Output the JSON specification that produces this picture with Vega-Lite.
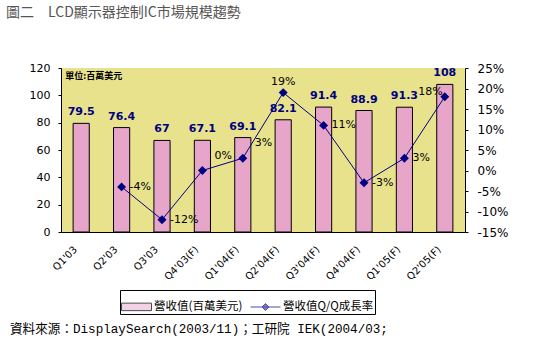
{
  "$schema": "https://vega.github.io/schema/vega-lite/v6.json",
  "config": {
    "locale": {"number": {"decimal": ".", "thousands": ",", "grouping": [3], "currency": ["$", ""], "minus": "-"}},
    "font": "DejaVu Sans",
    "view": {"stroke": null},
    "concat": {"spacing": 0}
  },
  "padding": {"left": 6, "top": 6, "right": 5, "bottom": 5},
  "title": {"text": "資料來源：DisplaySearch(2003/11)；工研院 IEK(2004/03;", "orient": "bottom", "anchor": "start", "frame": "bounds", "font": "Liberation Mono, Noto Sans CJK TC", "fontSize": 12.6, "fontWeight": "normal", "color": "black", "dx": 4, "offset": 8},
  "vconcat": [
    {
      "width": 404,
      "height": 164,
      "view": {"fill": "#E8E28C", "stroke": null},
      "title": {"text": "圖二　LCD顯示器控制IC市場規模趨勢", "anchor": "start", "frame": "bounds", "font": "Noto Sans CJK TC", "fontSize": 14, "fontWeight": "normal", "color": "#555555", "dx": -23, "offset": 42},
      "data": {"values": [
        {"q": "Q1'03", "rev": 79.5, "growth": null},
        {"q": "Q2'03", "rev": 76.4, "growth": -0.04},
        {"q": "Q3'03", "rev": 67, "growth": -0.12},
        {"q": "Q4'03(F)", "rev": 67.1, "growth": 0},
        {"q": "Q1'04(F)", "rev": 69.1, "growth": 0.03},
        {"q": "Q2'04(F)", "rev": 82.1, "growth": 0.19},
        {"q": "Q3'04(F)", "rev": 91.4, "growth": 0.11},
        {"q": "Q4'04(F)", "rev": 88.9, "growth": -0.03},
        {"q": "Q1'05(F)", "rev": 91.3, "growth": 0.03},
        {"q": "Q2'05(F)", "rev": 108, "growth": 0.18}
      ]},
      "encoding": {
        "x": {"field": "q", "type": "nominal", "sort": null, "title": null,
          "scale": {"paddingInner": 0, "paddingOuter": 0},
          "axis": {"labelAngle": -45, "labelFontSize": 10, "labelColor": "black", "ticks": false, "domainColor": "black", "labelPadding": 12, "labelOffset": -9}}
      },
      "layer": [
        {
          "layer": [
            {
              "mark": {"type": "bar", "fill": "#E6A5C9", "stroke": "black", "strokeWidth": 1, "width": {"band": 0.4}},
              "encoding": {
                "y": {"field": "rev", "type": "quantitative", "title": null, "scale": {"domain": [0, 120]},
                  "axis": {"values": [0, 20, 40, 60, 80, 100, 120], "tickCount": 20, "labelOverlap": false, "grid": false, "domainColor": "black", "tickColor": "black", "tickSize": 3, "labelPadding": 8, "labelFontSize": 11, "labelColor": "black"}}
              }
            },
            {
              "mark": {"type": "text", "baseline": "bottom", "dy": -6, "fontWeight": "bold", "fontSize": 11, "color": "#000080"},
              "encoding": {
                "y": {"field": "rev", "type": "quantitative"},
                "text": {"field": "rev", "type": "quantitative"}
              }
            },
            {
              "data": {"values": [{"note": "單位:百萬美元", "q": "Q1'03", "v": 120}]},
              "mark": {"type": "text", "align": "left", "baseline": "top", "dx": -16, "dy": 4, "fontWeight": "bold", "fontSize": 9, "font": "Noto Sans CJK TC", "color": "black"},
              "encoding": {
                "y": {"field": "v", "type": "quantitative"},
                "text": {"field": "note"}
              }
            }
          ]
        },
        {
          "layer": [
            {
              "mark": {"type": "line", "color": "#000080", "strokeWidth": 1},
              "encoding": {
                "y": {"field": "growth", "type": "quantitative", "title": null, "scale": {"domain": [-0.15, 0.25]},
                  "axis": {"orient": "right", "format": ".0%", "values": [-0.15, -0.1, -0.05, 0, 0.05, 0.1, 0.15, 0.2, 0.25], "tickCount": 20, "labelOverlap": false, "grid": false, "domainColor": "black", "tickColor": "black", "tickSize": 3, "labelPadding": 9, "labelFontSize": 12, "labelColor": "black"}}
              }
            },
            {
              "mark": {"type": "point", "shape": "diamond", "filled": true, "color": "#000080", "size": 80, "opacity": 1},
              "encoding": {"y": {"field": "growth", "type": "quantitative"}}
            },
            {
              "transform": [{"filter": {"field": "q", "oneOf": ["Q2'03", "Q3'03", "Q3'04(F)", "Q4'04(F)", "Q1'05(F)"]}}],
              "mark": {"type": "text", "align": "left", "baseline": "middle", "dx": 8, "fontSize": 11, "color": "black"},
              "encoding": {"y": {"field": "growth", "type": "quantitative"}, "text": {"field": "growth", "type": "quantitative", "format": ".0%"}}
            },
            {
              "transform": [{"filter": {"field": "q", "oneOf": ["Q4'03(F)", "Q1'04(F)"]}}],
              "mark": {"type": "text", "align": "left", "baseline": "middle", "dx": 12, "dy": -15, "fontSize": 11, "color": "black"},
              "encoding": {"y": {"field": "growth", "type": "quantitative"}, "text": {"field": "growth", "type": "quantitative", "format": ".0%"}}
            },
            {
              "transform": [{"filter": {"field": "q", "equal": "Q2'04(F)"}}],
              "mark": {"type": "text", "align": "center", "baseline": "bottom", "dy": -6, "fontSize": 11, "color": "black"},
              "encoding": {"y": {"field": "growth", "type": "quantitative"}, "text": {"field": "growth", "type": "quantitative", "format": ".0%"}}
            },
            {
              "transform": [{"filter": {"field": "q", "equal": "Q2'05(F)"}}],
              "mark": {"type": "text", "align": "right", "baseline": "middle", "dx": -2, "dy": -5, "fontSize": 11, "color": "black"},
              "encoding": {"y": {"field": "growth", "type": "quantitative"}, "text": {"field": "growth", "type": "quantitative", "format": ".0%"}}
            },
            {
              "data": {"values": []},
              "mark": {"type": "point", "filled": true, "strokeWidth": 1},
              "encoding": {
                "x": null,
                "fill": {"field": "series", "type": "nominal",
                  "scale": {"domain": ["營收值(百萬美元)", "營收值Q/Q成長率"], "range": ["#E6A5C9", "#000080"]},
                  "legend": {"orient": "none", "legendX": 59, "legendY": 222, "direction": "horizontal", "title": null, "strokeColor": "black", "padding": 1, "symbolSize": 900, "symbolStrokeWidth": 1, "symbolOpacity": 1, "labelFontSize": 11.5, "labelFont": "Noto Sans CJK TC", "labelColor": "black", "labelLimit": 0, "columnPadding": 5, "labelOffset": 2}},
                "stroke": {"field": "series", "type": "nominal",
                  "scale": {"domain": ["營收值(百萬美元)", "營收值Q/Q成長率"], "range": ["black", "#000080"]}},
                "shape": {"field": "series", "type": "nominal",
                  "scale": {"domain": ["營收值(百萬美元)", "營收值Q/Q成長率"], "range": ["M-1,-0.25H1V0.25H-1Z", "M-1,0H1M0,-0.23L0.23,0L0,0.23L-0.23,0Z"]}}
              }
            }
          ]
        }
      ],
      "resolve": {"scale": {"y": "independent"}}
    }
  ]
}
